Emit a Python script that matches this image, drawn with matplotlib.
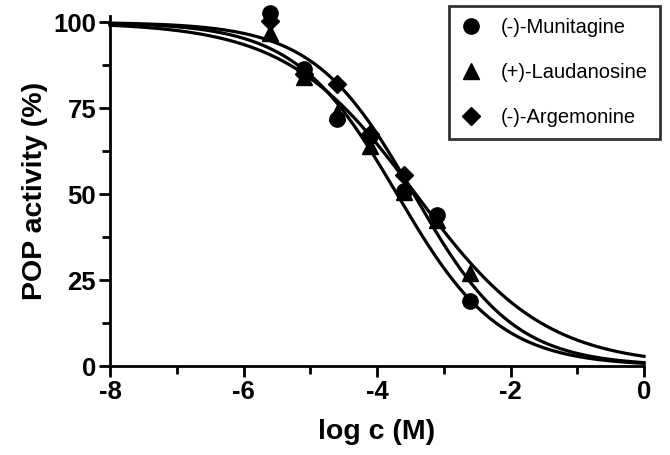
import numpy as np
import matplotlib
matplotlib.use("Agg")
import matplotlib.pyplot as plt
from matplotlib.ticker import MultipleLocator

# Data
log_c = [-5.6, -5.1, -4.6, -4.1, -3.6, -3.1, -2.6]
munitagine = [102.6, 86.4, 72.0, 67.0, 51.0, 43.8, 18.8]
laudanosine = [97.0, 84.0, 73.5, 64.0, 50.5, 42.5, 27.2]
log_c_arg = [-5.6, -5.1, -4.6, -4.1, -3.6]
argemonine = [100.5, 85.0, 82.0, 67.5, 55.5]

names = ["(-)-Munitagine", "(+)-Laudanosine", "(-)-Argemonine"]
markers = ["o", "^", "D"]
marker_sizes = [11, 11, 9.5]

# Dose-response fit parameters (log IC50, Hill slope)
log_ic50 = [-3.70, -3.42, -3.45]
hill_slope = [0.57, 0.45, 0.58]


def hill(x, logic50, h):
    return 100.0 / (1.0 + 10 ** ((np.asarray(x) - logic50) * h))


plt.rcParams['font.family'] = ['Liberation Sans', 'DejaVu Sans']
plt.rcParams['axes.unicode_minus'] = False
fig = plt.figure(figsize=(6.7, 4.55), dpi=100)
ax = fig.add_axes([0.1642, 0.1956, 0.797, 0.769])

xs = np.linspace(-8, 0, 400)
series = [(log_c, munitagine), (log_c, laudanosine), (log_c_arg, argemonine)]
handles = []
for (x, y), name, m, ms, c, h in zip(series, names, markers, marker_sizes,
                                     log_ic50, hill_slope):
    ax.plot(xs, hill(xs, c, h), color="black", lw=2.3, clip_on=False, zorder=2)
    hnd, = ax.plot(x, y, linestyle="none", marker=m, color="black", ms=ms,
                   clip_on=False, zorder=3, label=name)
    handles.append(hnd)

ax.set_xlim(-8, 0)
ax.set_ylim(0, 101.8)
ax.xaxis.set_major_locator(MultipleLocator(2))
ax.xaxis.set_minor_locator(MultipleLocator(1))
ax.yaxis.set_major_locator(MultipleLocator(25))
ax.yaxis.set_minor_locator(MultipleLocator(12.5))
for s in ["top", "right"]:
    ax.spines[s].set_visible(False)
for s in ["left", "bottom"]:
    ax.spines[s].set_linewidth(2.0)
ax.tick_params(which="major", length=8, width=2.0, labelsize=18.5, pad=2)
ax.tick_params(which="minor", length=6, width=2.0)
for lab in ax.get_xticklabels() + ax.get_yticklabels():
    lab.set_fontweight("bold")
ax.set_xlabel("log c (M)", fontsize=20.5, fontweight="bold", labelpad=11)
ax.set_ylabel("POP activity (%)", fontsize=20.5, fontweight="bold", labelpad=4)

leg = ax.legend(handles=handles, loc="upper right", bbox_to_anchor=(1.03, 1.03),
                frameon=True, fancybox=False, fontsize=14.5, handlelength=1.0,
                handletextpad=1.0, borderpad=0.6, labelspacing=1.3, borderaxespad=0)
leg.get_frame().set_edgecolor("black")
leg.get_frame().set_linewidth(2.0)

fig.savefig("out.png", dpi=100)
